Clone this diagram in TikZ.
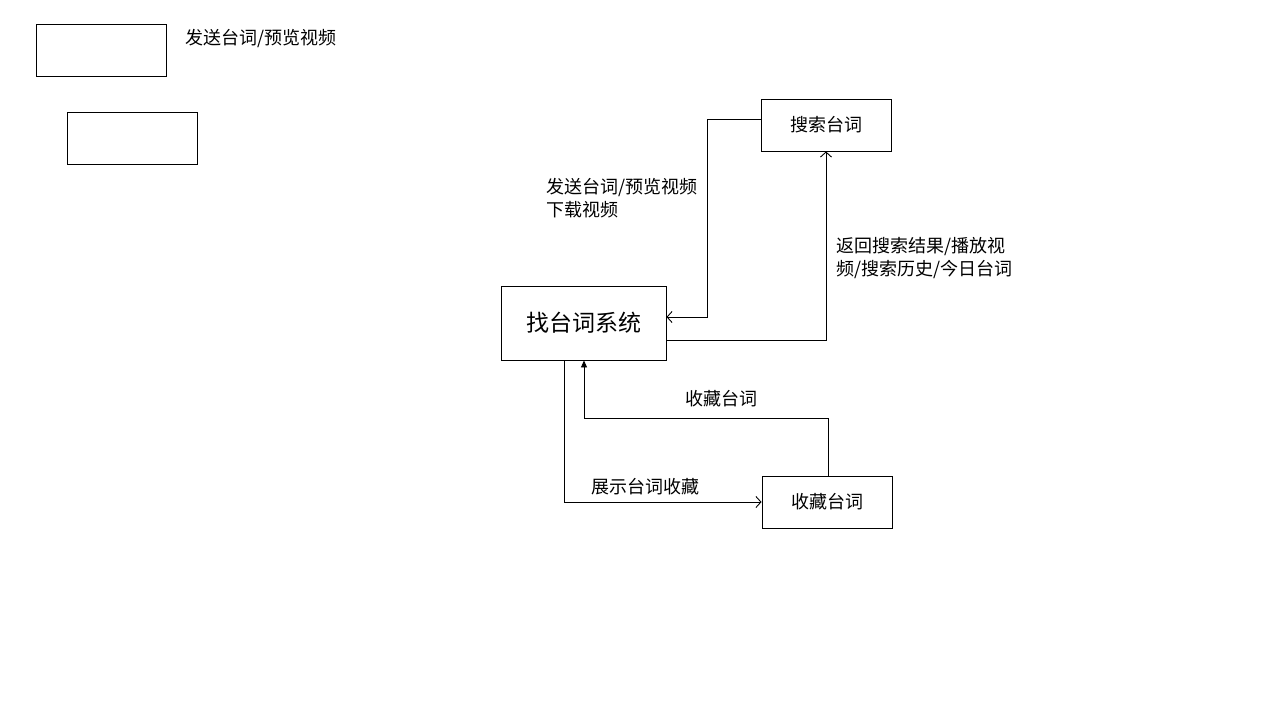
\documentclass[tikz,border=0pt]{standalone}
\usepackage{fontspec}
\setmainfont{Noto Sans CJK SC}
\usetikzlibrary{arrows.meta}
\begin{document}
\begin{tikzpicture}[x=1pt, y=-1pt, line width=0.9pt,
        b/.style={draw, minimum width=130pt, minimum height=52pt, inner sep=0pt, font=\fontsize{18}{23}\selectfont},
        lbl/.style={inner sep=0pt, align=left, font=\fontsize{18}{23}\selectfont},
        op/.style={-{Straight Barb[length=5pt, width=11pt]}},
        fl/.style={-{Triangle[length=7pt, width=6pt]}}]
    \useasboundingbox (0,0) rectangle (1280,720);
    % Legende oben links
    \node[b] (boxa) at (101,50) {};
    \node[b] (boxb) at (132.5,138) {};
    \node[lbl, anchor=west] (ltop) at (185,39) {发送台词/预览视频};
    % Knoten
    \node[b, minimum width=165pt, minimum height=74pt, font=\fontsize{23}{28}\selectfont] (sys) at (583.5,323) {找台词系统};
    \node[b] (search) at (826,125) {搜索台词};
    \node[b] (fav) at (827,502) {收藏台词};
    % Verbindungen
    \draw[op] (search.west |- 0,119) -| (707,317) -- (sys.east |- 0,317);
    \draw[op] (sys.east |- 0,340) -| (search.south);
    \draw[op] (sys.south -| 564,0) |- (fav.west);
    \draw[fl] (fav.north -| 828,0) |- (584,418) -- (sys.south -| 584,0);
    % Beschriftungen
    \node[lbl, anchor=west] (l1) at (546,198.5) {发送台词/预览视频\\下载视频};
    \node[lbl, anchor=west] (l2) at (836,258) {返回搜索结果/播放视\\频/搜索历史/今日台词};
    \node[lbl] (l3) at (721,399) {收藏台词};
    \node[lbl] (l4) at (645,487) {展示台词收藏};
\end{tikzpicture}
\end{document}
